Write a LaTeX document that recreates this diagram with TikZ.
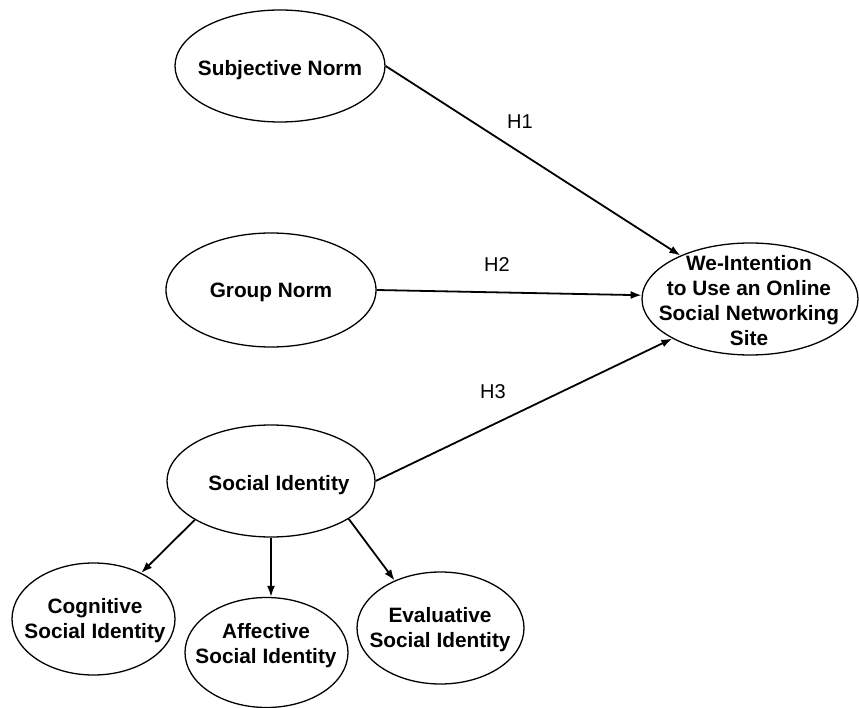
\documentclass[tikz,border=0pt]{standalone}
\usepackage{fontspec}
\setmainfont{Liberation Sans}
\usetikzlibrary{shapes.geometric,arrows.meta}
\tikzset{
  ell/.style={draw, ellipse, inner sep=0pt, line width=1.3pt},
  txt/.style={font=\fontsize{20.8}{25}\bfseries, align=center, inner sep=0pt},
  hlab/.style={font=\fontsize{20}{24}\selectfont, inner sep=0pt},
  arr/.style={line width=1.8pt, -{Latex[length=11pt,width=8pt]}}
}
\begin{document}
\begin{tikzpicture}[x=1pt,y=-1pt]
\useasboundingbox[fill=white] (0,0) rectangle (859,708);
% ellipses
\node[ell, minimum width=210pt, minimum height=112pt] (sn) at (280,66) {};
\node[ell, minimum width=210pt, minimum height=114pt] (gn) at (271,290) {};
\node[ell, minimum width=216pt, minimum height=112pt] (we) at (750,299) {};
\node[ell, minimum width=208pt, minimum height=112pt] (si) at (271,481) {};
\node[ell, minimum width=163pt, minimum height=112pt] (cs) at (93.5,619) {};
\node[ell, minimum width=163pt, minimum height=110pt] (as) at (266.5,652.5) {};
\node[ell, minimum width=167pt, minimum height=112pt] (es) at (440.5,628) {};
% texts
\node[txt] (snt) at (280,70) {Subjective Norm};
\node[txt] (gnt) at (271,292) {Group Norm};
\node[txt] (wet) at (749,301) {We-Intention\\to Use an Online\\Social Networking\\Site};
\node[txt] (sit) at (279,485) {Social Identity};
\node[txt] (cst) at (95,621) {Cognitive\\Social Identity};
\node[txt] (ast) at (266,646) {Affective\\Social Identity};
\node[txt] (est) at (440,630) {Evaluative\\Social Identity};
% hypothesis arrows
\draw[arr] (sn.east) -- (we.148);
\draw[arr] (gn.east) -- (we.178);
\draw[arr] (si.east) -- (we.207);
\node[hlab] (h1) at (520,122) {H1};
\node[hlab] (h2) at (497,265) {H2};
\node[hlab] (h3) at (493,392) {H3};
% dimension arrows
\draw[arr] (si.207) -- (cs.44);
\draw[arr] (si.south) -- (si.south |- as.north);
\draw[arr] (si.334) -- (es.134);
\end{tikzpicture}
\end{document}
